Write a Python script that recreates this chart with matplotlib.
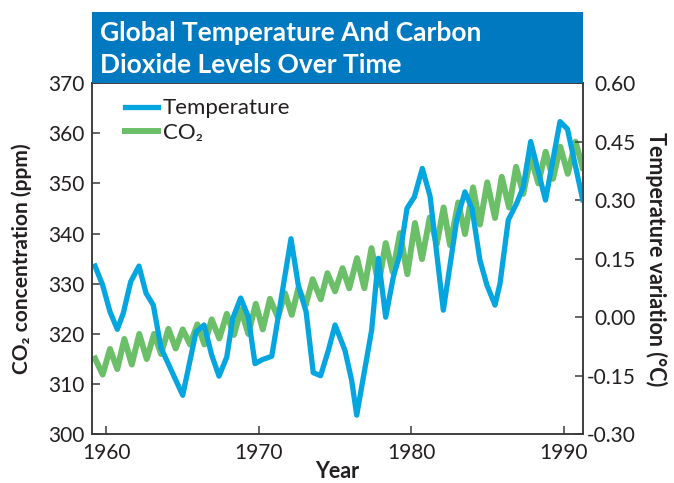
import matplotlib.pyplot as plt
from matplotlib.patches import Rectangle

plt.rcParams['font.family'] = ['Lato', 'DejaVu Sans']
plt.rcParams['axes.unicode_minus'] = False

# temperature variation (°C)
temp_year = [1959.26, 1959.76, 1960.24, 1960.72, 1961.11, 1961.60, 1962.14, 1962.60,
             1963.08, 1963.59, 1965.01, 1965.88, 1966.41, 1966.91, 1967.39, 1967.90,
             1968.29, 1968.81, 1969.31, 1969.75, 1970.21, 1970.85, 1972.11, 1972.59,
             1973.10, 1973.57, 1974.05, 1974.56, 1975.00, 1975.65, 1976.09, 1976.42,
             1977.40, 1977.84, 1978.32, 1978.82, 1979.26, 1979.72, 1980.20, 1980.72,
             1981.23, 1982.10, 1982.98, 1983.52, 1983.98, 1984.50, 1984.96, 1985.49,
             1985.82, 1986.36, 1986.91, 1987.34, 1987.83, 1988.80, 1989.75, 1990.24,
             1991.24]
temp_val = [0.131, 0.082, 0.014, -0.031, 0.010, 0.091, 0.131, 0.062,
            0.031, -0.079, -0.200, -0.038, -0.020, -0.097, -0.151, -0.102,
            -0.003, 0.049, 0.001, -0.119, -0.109, -0.100, 0.201, 0.082,
            0.014, -0.142, -0.150, -0.085, -0.020, -0.085, -0.162, -0.251,
            -0.033, 0.151, 0.000, 0.103, 0.163, 0.279, 0.308, 0.381,
            0.310, 0.018, 0.249, 0.321, 0.279, 0.146, 0.082, 0.031,
            0.087, 0.249, 0.292, 0.333, 0.450, 0.300, 0.501, 0.482,
            0.301]

# CO2 concentration (ppm), seasonal sawtooth
co2_year = [1959.26, 1959.76, 1960.24, 1960.72, 1961.18, 1961.67, 1962.16, 1962.65,
            1963.13, 1963.59, 1964.07, 1964.55, 1965.01, 1965.49, 1965.97, 1966.43,
            1966.91, 1967.41, 1967.90, 1968.37, 1968.83, 1969.31, 1969.80, 1970.26,
            1970.73, 1971.25, 1971.72, 1972.16, 1972.59, 1973.08, 1973.53, 1974.06,
            1974.50, 1975.00, 1975.49, 1975.93, 1976.44, 1976.92, 1977.39, 1977.85,
            1978.32, 1978.78, 1979.26, 1979.74, 1980.24, 1980.70, 1981.21, 1981.67,
            1982.12, 1982.54, 1983.08, 1983.52, 1984.05, 1984.50, 1984.98, 1985.49,
            1985.93, 1986.41, 1986.87, 1987.34, 1987.83, 1988.33, 1988.81, 1989.29,
            1989.77, 1990.26, 1990.77, 1991.24]
co2_val = [315.1, 311.9, 317.0, 313.0, 319.0, 313.9, 320.0, 315.0,
           320.0, 316.0, 321.0, 317.1, 320.9, 317.9, 321.9, 317.9,
           322.9, 319.1, 324.0, 319.8, 324.9, 320.0, 326.0, 320.9,
           327.0, 323.3, 328.1, 323.8, 329.1, 325.8, 330.9, 326.9,
           332.1, 328.5, 333.1, 329.1, 335.1, 329.1, 337.1, 329.8,
           338.1, 332.3, 340.1, 331.9, 342.1, 334.9, 343.2, 337.9,
           345.2, 337.7, 346.2, 339.9, 349.2, 341.8, 350.2, 343.1,
           351.3, 345.2, 353.3, 347.9, 355.3, 350.0, 356.3, 350.9,
           357.3, 351.9, 358.3, 353.1]

year_ticks = [1960, 1970, 1980, 1990]
co2_ticks = [300, 310, 320, 330, 340, 350, 360, 370]
temp_ticks = [-0.30, -0.15, 0.00, 0.15, 0.30, 0.45, 0.60]

blue = '#05A6E0'
green = '#6CBF69'
ink = '#231F20'

fig = plt.figure(figsize=(6.74, 4.83), dpi=100)
ax = fig.add_axes([0.1358, 0.1008, 0.7292, 0.7274])
ax2 = ax.twinx()

co2_line, = ax.plot(co2_year, co2_val, color=green, lw=4.3, label='CO₂')
temp_line, = ax2.plot(temp_year, temp_val, color=blue, lw=3.8, label='Temperature')

ax.set_xlim(1959.03, 1991.26)
ax.set_ylim(300, 370)
ax2.set_ylim(-0.30, 0.60)

ax.set_xticks(year_ticks)
ax.set_yticks(co2_ticks)
ax2.set_yticks(temp_ticks, ['%.2f' % t for t in temp_ticks])

for a in (ax, ax2):
    for s in a.spines.values():
        s.set_color('#3a3a3a')
        s.set_linewidth(1.1)
ax.tick_params(axis='both', direction='in', length=6, width=1.1, color='#3a3a3a',
               labelsize=15, labelcolor=ink)
ax.tick_params(axis='y', pad=5)
ax.tick_params(axis='x', pad=6)
ax2.tick_params(axis='y', direction='in', length=6, width=1.1, color='#3a3a3a',
                labelsize=15, labelcolor=ink, pad=38)
plt.setp(ax2.get_yticklabels(), ha='right')

ax.set_ylabel('CO₂ concentration (ppm)', fontsize=15, fontweight='bold', color=ink, va='center')
ax.yaxis.set_label_coords(-0.1414, 0.5)
ax2.set_ylabel('Temperature variation (°C)', fontsize=15.5, fontweight='bold', color=ink,
               rotation=270, va='center')
ax2.yaxis.set_label_coords(1.1485, 0.5)
ax.set_xlabel('Year', fontsize=15.5, fontweight='bold', color=ink, va='center')
ax.xaxis.set_label_coords(0.5, -0.105)

leg = ax2.legend(handles=[temp_line, co2_line], loc='upper left', bbox_to_anchor=(0.068, 0.956),
                 frameon=False, fontsize=16, handlelength=1.5, handletextpad=0.2,
                 borderpad=0, borderaxespad=0, labelspacing=0.2)
for t in leg.get_texts():
    t.set_color(ink)

# title banner
fig.add_artist(Rectangle((0.1358, 1 - 83 / 483), 0.7292, 71 / 483, transform=fig.transFigure,
                         facecolor='#0079C1', edgecolor='none', zorder=10))
fig.text(100 / 674, 1 - 41 / 483, 'Global Temperature And Carbon', color='white',
         fontsize=19, fontweight='bold', va='baseline', zorder=11)
fig.text(100 / 674, 1 - 73 / 483, 'Dioxide Levels Over Time', color='white',
         fontsize=19, fontweight='bold', va='baseline', zorder=11)

fig.savefig('out.png', dpi=100)
